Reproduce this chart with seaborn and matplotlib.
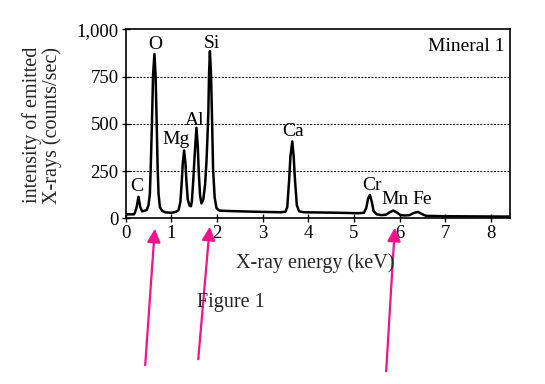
import matplotlib
matplotlib.use("Agg")
import matplotlib.pyplot as plt
import seaborn as sns
import pandas as pd

# Spectrum (energy keV, intensity counts/sec)
energy = [0.00, 0.18, 0.20, 0.24, 0.28, 0.32, 0.36, 0.40, 0.46, 0.50, 0.53, 0.55, 0.575, 0.60,
          0.63, 0.655, 0.68, 0.70, 0.72, 0.75, 0.80, 0.88, 1.00, 1.10, 1.16, 1.20, 1.23, 1.25,
          1.28, 1.31, 1.33, 1.36, 1.40, 1.43, 1.45, 1.48, 1.51, 1.55, 1.58, 1.60, 1.63, 1.66,
          1.70, 1.74, 1.77, 1.79, 1.81, 1.825, 1.845, 1.87, 1.89, 1.915, 1.95, 1.99, 2.05, 2.20,
          2.80, 3.40, 3.50, 3.54, 3.58, 3.61, 3.65, 3.68, 3.71, 3.75, 3.80, 3.90, 4.50, 5.10,
          5.22, 5.27, 5.31, 5.35, 5.39, 5.43, 5.50, 5.60, 5.70, 5.78, 5.86, 5.94, 6.02, 6.12,
          6.22, 6.30, 6.40, 6.48, 6.58, 7.00, 8.43]
intensity = [22, 22, 30, 60, 115, 60, 38, 40, 45, 70, 130, 280, 500, 760,
             870, 760, 500, 270, 130, 60, 40, 32, 30, 35, 45, 90, 200, 290,
             360, 290, 200, 100, 68, 65, 90, 200, 330, 480, 380, 250, 120, 80,
             100, 180, 300, 420, 550, 750, 885, 760, 550, 260, 110, 55, 42, 40,
             36, 33, 36, 60, 200, 330, 408, 330, 200, 70, 38, 33, 31, 28,
             30, 55, 105, 125, 90, 40, 22, 18, 20, 32, 42, 32, 18, 16,
             18, 28, 35, 25, 14, 12, 10]

elements = ["C", "O", "Mg", "Al", "Si", "Ca", "Cr", "Mn", "Fe"]
label_x = [0.25, 0.64, 1.10, 1.52, 1.88, 3.67, 5.40, 5.91, 6.50]
label_y = [167, 922, 418, 518, 928, 460, 173, 98, 98]

x_ticks = [0, 1, 2, 3, 4, 5, 6, 7, 8]
y_ticks = [0, 250, 500, 750, 1000]
y_tick_labels = ["0", "250", "500", "750", "1,000"]

sns.set_style("ticks")
plt.rcParams["font.family"] = ["Liberation Serif", "DejaVu Serif"]

df = pd.DataFrame({"energy": energy, "intensity": intensity})

fig = plt.figure(figsize=(5.45, 3.84), dpi=100)
ax = fig.add_axes([0.2306, 0.431, 0.7052, 0.4922])

sns.lineplot(data=df, x="energy", y="intensity", ax=ax, color="black",
             linewidth=1.8, sort=False, estimator=None)

ax.set_xlim(0, 8.42)
ax.set_ylim(0, 1000)
ax.set_xticks(x_ticks)
ax.set_yticks(y_ticks)
ax.set_yticklabels(y_tick_labels)
ax.tick_params(direction="inout", length=6, width=1, labelsize=13.5, colors="black", pad=2)
for s in ax.spines.values():
    s.set_visible(True)
    s.set_color("black")
    s.set_linewidth(1.2)

for yv in [250, 500, 750]:
    ax.axhline(yv, color="black", linestyle=(0, (2, 1.5)), linewidth=0.7, zorder=0)

ax.set_xlabel("")
ax.set_ylabel("")

for el, xv, yv in zip(elements, label_x, label_y):
    ax.text(xv, yv, el, ha="center", va="center", fontsize=14, color="black")

ax.text(0.985, 0.91, "Mineral 1", transform=ax.transAxes, ha="right", va="center",
        fontsize=14, color="black")

fig.text(315 / 545, 1 - 263 / 384, "X-ray energy (keV)", ha="center", va="center",
         fontsize=14.5)
fig.text(42 / 545, 1 - 125 / 384, "intensity of emitted\nX-rays (counts/sec)",
         ha="center", va="center", rotation=90, fontsize=14.5, linespacing=1.0)
fig.text(231 / 545, 1 - 302 / 384, "Figure 1", ha="center", va="center", fontsize=14.5)

pink = "#f0148c"
arrows = [((145, 368), (155, 226)), ((198, 362), (210, 224)), ((386, 374), (395, 225))]
for (tx, ty), (hx, hy) in arrows:
    fig.patches.append(matplotlib.patches.FancyArrowPatch(
        (tx / 545, 1 - ty / 384), (hx / 545, 1 - hy / 384), transform=fig.transFigure,
        arrowstyle="-|>,head_length=5,head_width=2.5", color=pink, linewidth=1.6,
        mutation_scale=1.6))

fig.savefig("out.png", dpi=100)
